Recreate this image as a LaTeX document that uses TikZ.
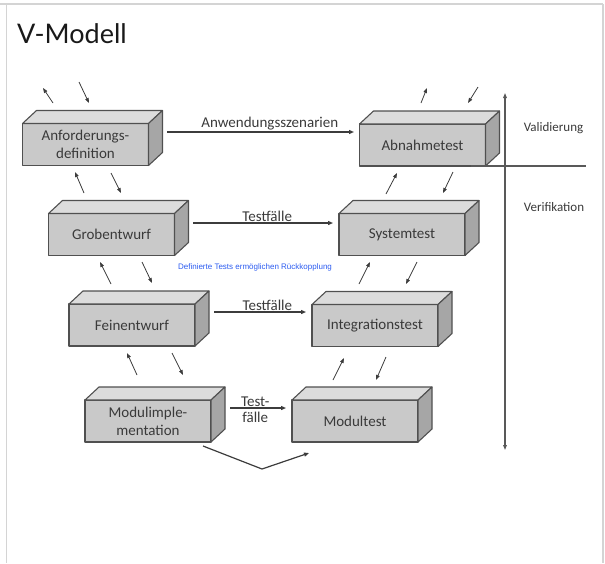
\documentclass[tikz,border=0pt]{standalone}
\usepackage{fontspec}
\setmainfont{Carlito}
\newfontfamily\titlefont{Lato}
\newfontfamily\notefont{Liberation Sans}
\usetikzlibrary{arrows.meta,calc}

\definecolor{framegray}{HTML}{D4D4D4}
\definecolor{frontgray}{HTML}{C9C9C9}
\definecolor{topgray}{HTML}{DCDCDC}
\definecolor{sidegray}{HTML}{A6A6A6}
\definecolor{edgegray}{HTML}{505050}
\definecolor{textgray}{HTML}{3A3A3A}
\definecolor{linegray}{HTML}{3C3C3C}
\definecolor{noteblue}{HTML}{2B5BF0}

\tikzset{
  box/.style={draw=edgegray, fill=frontgray, line width=1.1pt, line join=round,
    minimum width=126pt, minimum height=42pt, inner sep=0pt, outer sep=0pt,
    align=center, text=textgray, font=\fontsize{15}{18}\selectfont},
  topface/.style={draw=edgegray, fill=topgray, line width=1.1pt, line join=round},
  sideface/.style={draw=edgegray, fill=sidegray, line width=1.1pt, line join=round},
  flow/.style={draw=linegray, line width=1.2pt, -{Triangle[length=5pt,width=4pt]}},
  feedback/.style={draw=linegray, line width=0.8pt, -{Triangle[length=5pt,width=3.6pt]}},
  flowlabel/.style={text=textgray, font=\fontsize{15}{18}\selectfont, inner sep=1pt},
  sidelabel/.style={text=textgray, font=\fontsize{13}{15}\selectfont},
  axis/.style={draw=linegray!85, line width=1.1pt},
}

% a box with its front face as the named node, plus top and right faces
\newcommand\cuboid[3]{%
  \node[box] (#1) at #2 {#3};
  \filldraw[topface] (#1.north west) -- ++(14,-13) -- ++(126,0) -- (#1.north east) -- cycle;
  \filldraw[sideface] (#1.north east) -- ++(14,-13) -- ++(0,42) -- (#1.south east) -- cycle;
}

\begin{document}
\begin{tikzpicture}[x=1pt,y=-1pt]
\useasboundingbox (0,0) rectangle (605,563);

% page frame
\draw[framegray, line width=1.5pt] (0,4) -- (603,4);
\draw[framegray, line width=1.5pt] (6.5,4) -- (6.5,563);
\draw[framegray, line width=1.5pt] (603,4) -- (603,563);

\node[anchor=base west, inner sep=0pt, font=\titlefont\fontsize{27}{30}\selectfont, text=black!90] (title) at (17,43) {V-Modell};

% validation / verification axis
\coordinate (axtop) at (505,93);
\coordinate (axbot) at (505,450);
\coordinate (axright) at (586,166);
\draw[axis, {Triangle[length=5pt,width=3.6pt]}-{Triangle[length=5pt,width=3.6pt]}] (axtop) -- (axbot);

% left branch
\cuboid{anf}{(85.5,144.5)}{Anforderungs-\\definition}
\cuboid{grob}{(111.5,234.5)}{Grobentwurf}
\cuboid{fein}{(132,325)}{Feinentwurf}
\cuboid{modi}{(148,421)}{Modulimple-\\mentation}

% right branch
\cuboid{abn}{(422.5,145)}{Abnahmetest}
\cuboid{sys}{(402,234.5)}{Systemtest}
\cuboid{integ}{(375,325.5)}{Integrationstest}
\cuboid{modt}{(355,421)}{Modultest}

\draw[axis] ($(abn.south east)+(-14.5,0)$) -- (axright);
\node[sidelabel] (val) at (553.5,128) {Validierung};
\node[sidelabel] (ver) at (554,207) {Verifikation};

% test cases handed over from each design level
\draw[flow] ($(anf.east)+(18.5,-12.5)$) -- node[flowlabel, above, pos=0.55] {Anwendungsszenarien} ($(abn.west)+(-5.5,-13)$);
\draw[flow] ($(grob.east)+(18.5,-11.5)$) -- node[flowlabel, above, pos=0.53] {Testfälle} ($(sys.west)+(-6,-11.5)$);
\draw[flow] ($(fein.east)+(19,-13)$) -- node[flowlabel, above, pos=0.58] {Testfälle} ($(integ.west)+(-6,-13.5)$);
\draw[flow] ($(modi.east)+(19,-13)$) -- node[flowlabel, above, pos=0.45] {Test-} node[flowlabel, below, pos=0.45, inner sep=3pt] {fälle} ($(modt.west)+(-6,-13)$);
\draw[flow] ($(modi.south east)+(-8,4)$) -- (262,469) -- ($(modt.south west)+(17,11)$);

\node[font=\notefont\fontsize{8}{10}\selectfont, text=noteblue, inner sep=0pt] (note) at (255,267) {Definierte Tests ermöglichen Rückkopplung};

% feedback arrows between neighbouring levels
\foreach \tx/\ty/\hx/\hy in {
  53/103/43/88, 79/82/89/103,
  84/193/75/172, 111/173/121/193,
  111/284/100/262, 142/262/152/283,
  137/375/127/353, 172/353/183/375,
  421/103/427/88, 478/87/468/103,
  386/194/397/173, 453/172/443/193,
  359/284/370/262, 417/262/406/284,
  333/380/344/358, 386/357/376/380}
  \draw[feedback] (\tx,\ty) -- (\hx,\hy);
\end{tikzpicture}
\end{document}
